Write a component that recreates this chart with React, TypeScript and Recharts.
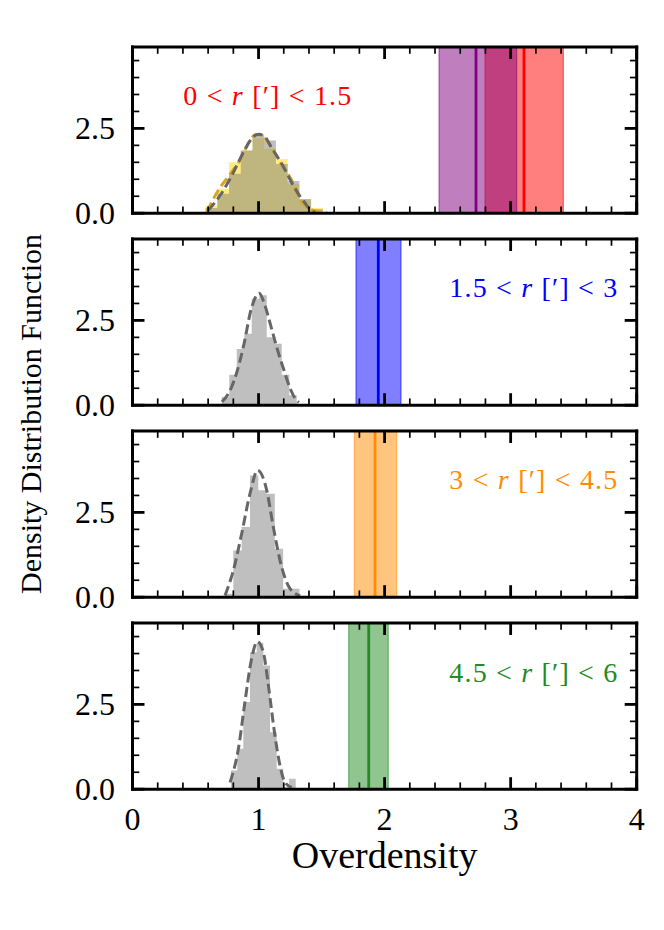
import React from 'react';
import { ComposedChart, Area, Line, XAxis, YAxis, ReferenceArea, ReferenceLine } from 'recharts';

// ---------- ticks ----------
const xTicks = [0, 0.2, 0.4, 0.6, 0.8, 1, 1.2, 1.4, 1.6, 1.8, 2, 2.2, 2.4, 2.6, 2.8, 3, 3.2, 3.4, 3.6, 3.8, 4];
const yTicks = [0, 0.5, 1, 1.5, 2, 2.5, 3, 3.5, 4, 4.5];
const yMajor = [0, 2.5];
const xDomain = [0, 4];
const yDomain = [0, 4.9];

// ---------- panel 1 (0 < r < 1.5) ----------
const p1Edges = [0.58, 0.673, 0.766, 0.859, 0.952, 1.045, 1.138, 1.231, 1.324, 1.417, 1.51];
const p1Gray = [0.15, 0.57, 1.16, 1.85, 2.31, 2.14, 1.45, 0.95, 0.42, 0.12];
const p1Gold = [0.22, 0.72, 1.5, 1.85, 2.2, 1.9, 1.6, 0.85, 0.4, 0.15];
const p1GrayFit = [[0.6, 0.08], [0.7, 0.55], [0.8, 1.2], [0.893, 1.89], [0.95, 2.22], [1.0, 2.33], [1.05, 2.25], [1.1, 1.95], [1.2, 1.35], [1.263, 0.9], [1.32, 0.55], [1.369, 0.3], [1.41, 0.1], [1.45, 0.02]];
const p1GoldFit = [[0.59, 0.05], [0.68, 0.67], [0.774, 1.15], [0.866, 1.65], [0.932, 2.15], [0.98, 2.32], [1.03, 2.28], [1.1, 1.95], [1.18, 1.45], [1.263, 0.97], [1.33, 0.38], [1.4, 0.14], [1.47, 0.05], [1.55, 0.0]];

// ---------- panel 2 (1.5 < r < 3) ----------
const p2Edges = [0.708, 0.768, 0.827, 0.887, 0.946, 1.006, 1.065, 1.125, 1.184, 1.244, 1.303];
const p2Gray = [0.24, 0.9, 1.66, 2.11, 3.14, 3.24, 2.0, 1.81, 0.9, 0.29];
const p2Fit = [[0.71, 0.1], [0.774, 0.43], [0.83, 1.0], [0.879, 1.71], [0.946, 2.89], [1.005, 3.3], [1.05, 2.95], [1.1, 2.3], [1.144, 1.71], [1.2, 1.05], [1.25, 0.5], [1.29, 0.2], [1.32, 0.08]];

// ---------- panel 3 (3 < r < 4.5) ----------
const p3Edges = [0.734, 0.8, 0.866, 0.932, 0.998, 1.063, 1.129, 1.195, 1.26, 1.325];
const p3Gray = [0.1, 1.38, 2.07, 3.59, 3.15, 3.05, 1.43, 0.25, 0.25];
const p3Fit = [[0.734, 0.05], [0.8, 0.79], [0.866, 1.87], [0.932, 3.05], [0.993, 3.74], [1.065, 3.15], [1.117, 2.07], [1.184, 0.88], [1.25, 0.25], [1.33, 0.04]];

// ---------- panel 4 (4.5 < r < 6) ----------
const p4Edges = [0.781, 0.831, 0.879, 0.932, 0.985, 1.038, 1.091, 1.144, 1.196, 1.242, 1.295];
const p4Gray = [0.55, 1.19, 2.57, 4.04, 4.32, 3.65, 1.68, 0.6, 0.06, 0.31];
const p4Fit = [[0.774, 0.2], [0.84, 1.19], [0.892, 2.57], [0.945, 3.85], [0.99, 4.35], [1.038, 4.04], [1.078, 3.06], [1.13, 1.58], [1.17, 0.7], [1.21, 0.2], [1.263, 0.05]];

// ---------- bands (low, high, median) ----------
const bandPurple = [2.432, 3.048, 2.725];
const bandRed = [2.797, 3.418, 3.106];
const bandBlue = [1.773, 2.13, 1.95];
const bandOrange = [1.76, 2.096, 1.924];
const bandGreen = [1.715, 2.029, 1.874];

// ---------- layout ----------
const plotTops = [46.5, 238.5, 430.5, 622.5];
const plotH = 166.2;
const padTop = 30;
const chartH = 262;
const leftM = 132.5;
const rightM = 27.3;
const AX = 1; // thickness reserved for each axis box
const FONT = '"Liberation Serif", "Times New Roman", serif';

const histData = (edges: number[], h: number[]) =>
  edges.map((e, i) => ({ x: e, y: i < h.length ? h[i] : h[h.length - 1] }));
const fitData = (pts: number[][]) => pts.map(([x, y]) => ({ x, y }));

const isMajorX = (v: number) => Math.abs(v - Math.round(v)) < 1e-6;
const isMajorY = (v: number) => yMajor.some((m) => Math.abs(m - v) < 1e-6);

const MAJ_L = 12;
const MIN_L = 6.8;
const MAJ_W = 2.8;
const MIN_W = 1.7;

const BottomTick = (props: any) => {
  const { x, y, payload, showLabel } = props;
  const v = payload.value;
  const major = isMajorX(v);
  return (
    <g>
      <line x1={x} y1={y} x2={x} y2={y - (major ? MAJ_L : MIN_L)} stroke="#000" strokeWidth={major ? MAJ_W : MIN_W} />
      {showLabel && major ? (
        <text x={x} y={y + 40.5} textAnchor="middle" fontFamily={FONT} fontSize={32} fill="#000">
          {String(Math.round(v))}
        </text>
      ) : null}
    </g>
  );
};
const TopTick = (props: any) => {
  const { x, y, payload } = props;
  const major = isMajorX(payload.value);
  return <line x1={x} y1={y} x2={x} y2={y + (major ? MAJ_L : MIN_L)} stroke="#000" strokeWidth={major ? MAJ_W : MIN_W} />;
};
const LeftTick = (props: any) => {
  const { x, y, payload } = props;
  const v = payload.value;
  const major = isMajorY(v);
  return (
    <g>
      <line x1={x} y1={y} x2={x + (major ? MAJ_L : MIN_L)} y2={y} stroke="#000" strokeWidth={major ? MAJ_W : MIN_W} />
      {major ? (
        <text x={x - 17.5} y={y + 10.7} textAnchor="end" fontFamily={FONT} fontSize={32} fill="#000">
          {v.toFixed(1)}
        </text>
      ) : null}
    </g>
  );
};
const RightTick = (props: any) => {
  const { x, y, payload } = props;
  const major = isMajorY(payload.value);
  return <line x1={x} y1={y} x2={x - (major ? MAJ_L : MIN_L)} y2={y} stroke="#000" strokeWidth={major ? MAJ_W : MIN_W} />;
};

const axisLine = { stroke: '#000', strokeWidth: 3, strokeLinecap: 'square' as const };

type Band = { v: number[]; color: string; op: number };
type PanelProps = {
  idx: number;
  hists: { edges: number[]; h: number[]; color: string }[];
  fits: { pts: number[][]; color: string }[];
  bands: Band[];
  last: boolean;
};

const Panel = ({ idx, hists, fits, bands, last }: PanelProps) => (
  <div style={{ position: 'absolute', left: 0, top: plotTops[idx] - padTop }}>
    <ComposedChart
      width={664}
      height={chartH}
      margin={{ top: padTop - AX, left: leftM - AX, right: rightM - AX, bottom: chartH - padTop - plotH - AX }}
    >
      <XAxis xAxisId="b" dataKey="x" type="number" domain={xDomain} allowDataOverflow ticks={xTicks} interval={0}
        height={AX} tickSize={0} tickMargin={0} axisLine={axisLine} tickLine={false}
        tick={(p: any) => <BottomTick {...p} showLabel={last} />} />
      <XAxis xAxisId="t" orientation="top" dataKey="x" type="number" domain={xDomain} allowDataOverflow ticks={xTicks} interval={0}
        height={AX} tickSize={0} tickMargin={0} axisLine={axisLine} tickLine={false}
        tick={(p: any) => <TopTick {...p} />} />
      <YAxis yAxisId="l" type="number" domain={yDomain} allowDataOverflow ticks={yTicks} interval={0}
        width={AX} tickSize={0} tickMargin={0} axisLine={axisLine} tickLine={false}
        tick={(p: any) => <LeftTick {...p} />} />
      <YAxis yAxisId="r" orientation="right" type="number" domain={yDomain} allowDataOverflow ticks={yTicks} interval={0}
        width={AX} tickSize={0} tickMargin={0} axisLine={axisLine} tickLine={false}
        tick={(p: any) => <RightTick {...p} />} />
      {bands.map((b, i) => (
        <ReferenceArea key={'ba' + i} xAxisId="b" yAxisId="l" x1={b.v[0]} x2={b.v[1]}
          fill={b.color} fillOpacity={b.op} stroke={b.color} strokeOpacity={b.op} strokeWidth={1.3} />
      ))}
      {bands.map((b, i) => (
        <ReferenceLine key={'bl' + i} xAxisId="b" yAxisId="l" x={b.v[2]} stroke={b.color} strokeWidth={2.8} />
      ))}
      {hists.map((h, i) => (
        <Area key={'h' + i} xAxisId="b" yAxisId="l" data={histData(h.edges, h.h)} dataKey="y" type="stepAfter"
          stroke="none" fill={h.color} fillOpacity={0.5} isAnimationActive={false} dot={false} activeDot={false} />
      ))}
      {fits.map((f, i) => (
        <Line key={'f' + i} xAxisId="b" yAxisId="l" data={fitData(f.pts)} dataKey="y" type="monotone"
          stroke={f.color} strokeWidth={3} strokeDasharray="10 4.5" dot={false} activeDot={false} isAnimationActive={false} />
      ))}
    </ComposedChart>
  </div>
);

const Label = ({ x, y, color, pre, post }: { x: number; y: number; color: string; pre: string; post: string }) => (
  <text x={x} y={y} fontFamily={FONT} fontSize={28} fill={color} textLength={168} lengthAdjust="spacing">
    {pre}
    <tspan fontStyle="italic">r</tspan>
    {post}
  </text>
);

export default function App() {
  return (
    <div style={{ position: 'absolute', left: 0, top: 0, width: 664, height: 930, background: '#fff' }}>
      <Panel idx={0} last={false}
        hists={[{ edges: p1Edges, h: p1Gold, color: '#ffd700' }, { edges: p1Edges, h: p1Gray, color: '#808080' }]}
        fits={[{ pts: p1GoldFit, color: '#daa520' }, { pts: p1GrayFit, color: '#666666' }]}
        bands={[{ v: bandRed, color: '#ff0000', op: 0.5 }, { v: bandPurple, color: '#800080', op: 0.5 }]} />
      <Panel idx={1} last={false}
        hists={[{ edges: p2Edges, h: p2Gray, color: '#808080' }]}
        fits={[{ pts: p2Fit, color: '#666666' }]}
        bands={[{ v: bandBlue, color: '#0000ff', op: 0.5 }]} />
      <Panel idx={2} last={false}
        hists={[{ edges: p3Edges, h: p3Gray, color: '#808080' }]}
        fits={[{ pts: p3Fit, color: '#666666' }]}
        bands={[{ v: bandOrange, color: '#ff8c00', op: 0.5 }]} />
      <Panel idx={3} last={true}
        hists={[{ edges: p4Edges, h: p4Gray, color: '#808080' }]}
        fits={[{ pts: p4Fit, color: '#666666' }]}
        bands={[{ v: bandGreen, color: '#228b22', op: 0.5 }]} />
      <svg width={664} height={930} style={{ position: 'absolute', left: 0, top: 0, pointerEvents: 'none' }}>
        <Label x={183.3} y={105} color="#ff0000" pre={'0 < '} post={' [\u2032] < 1.5'} />
        <Label x={449.3} y={297} color="#0000ff" pre={'1.5 < '} post={' [\u2032] < 3'} />
        <Label x={449.3} y={489} color="#ff8c00" pre={'3 < '} post={' [\u2032] < 4.5'} />
        <Label x={449.3} y={681.5} color="#228b22" pre={'4.5 < '} post={' [\u2032] < 6'} />
        <text x={384.6} y={868} textAnchor="middle" fontFamily={FONT} fontSize={38} fill="#000">Overdensity</text>
        <text x={41} y={414} textAnchor="middle" fontFamily={FONT} fontSize={30} fill="#000"
          transform="rotate(-90 41 414)">Density Distribution Function</text>
      </svg>
    </div>
  );
}
